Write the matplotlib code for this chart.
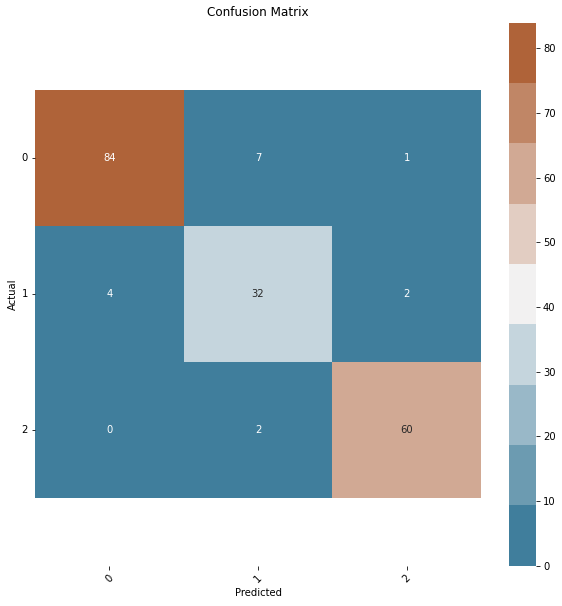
import matplotlib
matplotlib.use("Agg")
import matplotlib.pyplot as plt
import seaborn as sns
import numpy as np
from seaborn.utils import relative_luminance

classes = ["0", "1", "2"]
row0 = [84, 7, 1]
row1 = [4, 32, 2]
row2 = [0, 2, 60]
cm = np.array([row0, row1, row2])

fig = plt.figure(figsize=(562 / 72, 606 / 72), dpi=72)
ax = fig.add_axes([35 / 562, 1 - 565.5 / 606, 446 / 562, 543 / 606])
cax = fig.add_axes([509 / 562, 1 - 565.5 / 606, 27 / 562, 543 / 606])

cmap = sns.diverging_palette(230, 30, n=9)
sns.heatmap(cm, annot=True, fmt="d", cmap=cmap, ax=ax, cbar_ax=cax,
            xticklabels=classes, yticklabels=classes,
            annot_kws={"fontsize": 10})

# text colour by cell luminance, computed from the mesh's own colormap
mesh = ax.collections[0]
cell_colors = mesh.to_rgba(cm.flatten())
for txt, fc in zip(ax.texts, cell_colors):
    txt.set_color(".15" if relative_luminance(fc) > 0.3 else "w")

ax.set_ylim(3.5, -0.5)
ax.set_title("Confusion Matrix", fontsize=12)
ax.set_xlabel("Predicted", fontsize=10)
ax.set_ylabel("Actual", fontsize=10)
ax.tick_params(labelsize=10)
plt.setp(ax.get_xticklabels(), rotation=45)
plt.setp(ax.get_yticklabels(), rotation=0)
cax.tick_params(labelsize=10)
cax.set_yticks(range(0, 81, 10))

fig.savefig("out.png", dpi=72)
